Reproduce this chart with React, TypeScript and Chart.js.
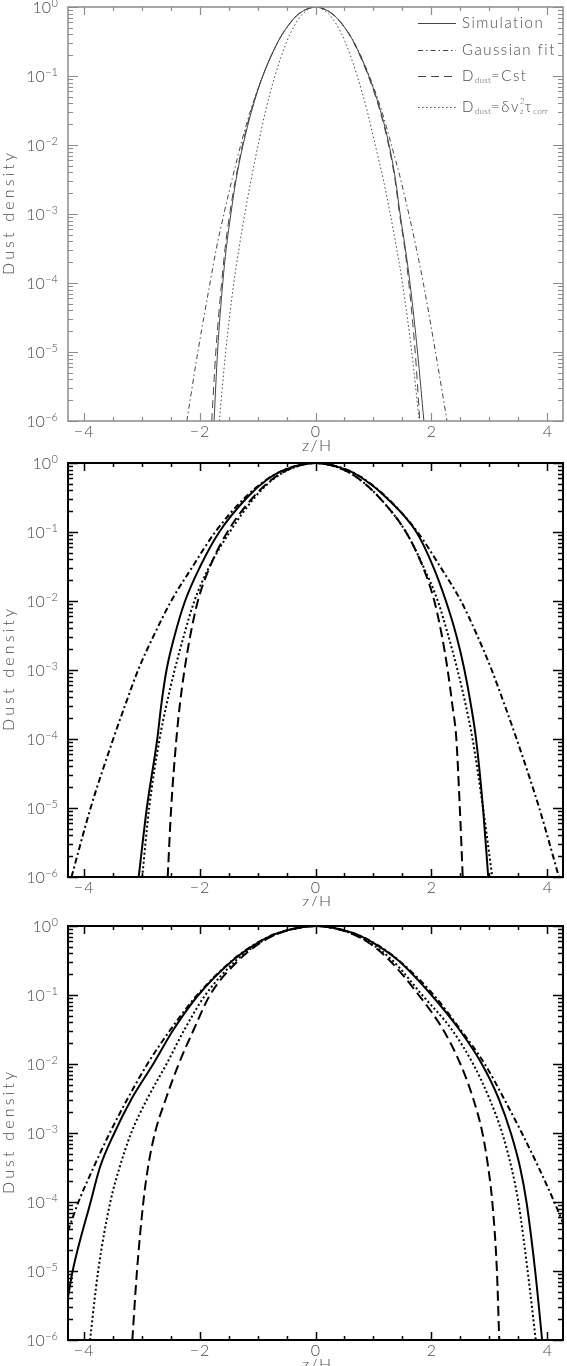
import React, { useEffect, useRef } from "react";
import { Chart, registerables } from "chart.js";
Chart.register(...registerables);

// ---------- data ----------
// density levels at which each curve's z-position was read
const LEVELS = [1e-6, 1e-5, 1e-4, 3.16e-4, 1e-3, 3.16e-3, 1e-2, 3.16e-2, 0.1, 0.316, 0.562, 0.794];
const PEAK_Z = 0;
const PEAK_D = 1;

// Panel 1
const p1SimL = [-1.75, -1.69, -1.6, -1.54, -1.46, -1.37, -1.25, -1.1, -0.91, -0.645, -0.455, -0.29];
const p1SimR = [1.87, 1.76, 1.63, 1.55, 1.46, 1.38, 1.27, 1.12, 0.92, 0.655, 0.46, 0.29];
const p1GauL = [-2.22, -2.03, -1.82, -1.71, -1.58, -1.44, -1.29, -1.12, -0.91, -0.645, -0.455, -0.29];
const p1GauR = [2.27, 2.07, 1.86, 1.74, 1.61, 1.47, 1.31, 1.14, 0.93, 0.66, 0.465, 0.295];
const p1CstL = [-1.79, -1.72, -1.62, -1.56, -1.48, -1.38, -1.26, -1.11, -0.91, -0.645, -0.455, -0.29];
const p1CstR = [1.8, 1.72, 1.61, 1.54, 1.45, 1.37, 1.26, 1.11, 0.91, 0.65, 0.46, 0.29];
const p1CorL = [-1.66, -1.55, -1.41, -1.32, -1.22, -1.11, -0.99, -0.86, -0.7, -0.495, -0.35, -0.22];
const p1CorR = [1.79, 1.66, 1.5, 1.4, 1.29, 1.17, 1.03, 0.89, 0.72, 0.51, 0.36, 0.225];

// Panel 2
const p2SimL = [-3.05, -2.91, -2.73, -2.66, -2.57, -2.43, -2.25, -1.99, -1.66, -1.18, -0.85, -0.54];
const p2SimR = [2.98, 2.89, 2.77, 2.68, 2.57, 2.43, 2.25, 2.03, 1.74, 1.22, 0.86, 0.54];
const p2GauL = [-4.21, -3.88, -3.49, -3.28, -3.06, -2.79, -2.49, -2.12, -1.73, -1.215, -0.86, -0.54];
const p2GauR = [4.2, 3.86, 3.47, 3.26, 3.04, 2.79, 2.51, 2.15, 1.76, 1.23, 0.87, 0.55];
const p2CstL = [-2.55, -2.49, -2.4, -2.34, -2.26, -2.16, -2.03, -1.82, -1.52, -1.08, -0.77, -0.48];
const p2CstR = [2.54, 2.49, 2.43, 2.36, 2.28, 2.18, 2.05, 1.85, 1.56, 1.1, 0.78, 0.49];
const p2CorL = [-2.99, -2.87, -2.69, -2.57, -2.43, -2.27, -2.09, -1.83, -1.48, -1.05, -0.75, -0.47];
const p2CorR = [3.05, 2.89, 2.71, 2.59, 2.45, 2.29, 2.11, 1.86, 1.56, 1.1, 0.78, 0.49];

// Panel 3 (null = curve leaves the frame before that level)
const p3SimL = [null, -4.19, -3.88, -3.72, -3.47, -3.17, -2.8, -2.45, -2.02, -1.43, -1.01, -0.64];
const p3SimLEdge = [-4.27, 4.2e-6];
const p3SimR = [3.91, 3.79, 3.64, 3.53, 3.37, 3.16, 2.87, 2.48, 2.0, 1.43, 1.01, 0.64];
const p3GauL = [null, null, -4.09, -3.83, -3.55, -3.24, -2.9, -2.5, -2.04, -1.44, -1.02, -0.645];
const p3GauLEdge = [-4.27, 3.8e-5];
const p3GauR = [null, null, 4.12, 3.85, 3.56, 3.25, 2.92, 2.5, 2.04, 1.44, 1.02, 0.645];
const p3GauREdge = [4.27, 5.0e-5];
const p3CstL = [-3.16, -3.08, -2.97, -2.89, -2.77, -2.58, -2.36, -2.1, -1.82, -1.33, -0.96, -0.61];
const p3CstR = [3.17, 3.13, 3.05, 2.98, 2.88, 2.72, 2.5, 2.2, 1.78, 1.28, 0.93, 0.59];
const p3CorL = [-3.89, -3.75, -3.54, -3.38, -3.18, -2.9, -2.57, -2.26, -1.9, -1.37, -0.98, -0.62];
const p3CorR = [3.8, 3.66, 3.5, 3.38, 3.22, 3.0, 2.72, 2.35, 1.84, 1.33, 0.95, 0.6];

// axes
const X_MIN = -4.27;
const X_MAX = 4.27;
const X_MAJOR = [-4, -2, 0, 2, 4];
const X_LABELS = ["\u22124", "\u22122", "0", "2", "4"];
const Y_MIN = 1e-6;
const Y_MAX = 1;
const Y_MAJOR = [1, 1e-1, 1e-2, 1e-3, 1e-4, 1e-5, 1e-6];
const Y_EXP = ["0", "\u22121", "\u22122", "\u22123", "\u22124", "\u22125", "\u22126"];
const X_TITLE = "z/H";
const Y_TITLE = "Dust density";
const LEGEND_LABELS = ["Simulation", "Gaussian fit", "Ddust=Cst", "Ddust=δvz2τcorr"];

// ---------- helpers ----------
type Pt = { x: number; y: number };
function buildCurve(
  left: (number | null)[],
  right: (number | null)[],
  leftEdge?: number[],
  rightEdge?: number[]
): Pt[] {
  const pts: Pt[] = [];
  if (leftEdge) pts.push({ x: leftEdge[0], y: leftEdge[1] });
  left.forEach((z, i) => {
    if (z !== null) pts.push({ x: z, y: LEVELS[i] });
  });
  pts.push({ x: PEAK_Z, y: PEAK_D });
  for (let i = right.length - 1; i >= 0; i--) {
    const z = right[i];
    if (z !== null) pts.push({ x: z, y: LEVELS[i] });
  }
  if (rightEdge) pts.push({ x: rightEdge[0], y: rightEdge[1] });
  return pts;
}

const FONT = "Lato, 'DejaVu Sans', sans-serif";
const W = "300";
const TEXT_COLOR = "#4a4a4a";

type PanelDef = {
  canvasTop: number;
  canvasHeight: number;
  areaTop: number;
  areaBottom: number;
  faint: boolean;
  legend: boolean;
  curves: { sim: Pt[]; gau: Pt[]; cst: Pt[]; cor: Pt[] };
};

const PANELS: PanelDef[] = [
  {
    canvasTop: 0,
    canvasHeight: 466,
    areaTop: 7,
    areaBottom: 421,
    faint: true,
    legend: true,
    curves: {
      sim: buildCurve(p1SimL, p1SimR),
      gau: buildCurve(p1GauL, p1GauR),
      cst: buildCurve(p1CstL, p1CstR),
      cor: buildCurve(p1CorL, p1CorR),
    },
  },
  {
    canvasTop: 440,
    canvasHeight: 466,
    areaTop: 463,
    areaBottom: 877,
    faint: false,
    legend: false,
    curves: {
      sim: buildCurve(p2SimL, p2SimR),
      gau: buildCurve(p2GauL, p2GauR),
      cst: buildCurve(p2CstL, p2CstR),
      cor: buildCurve(p2CorL, p2CorR),
    },
  },
  {
    canvasTop: 900,
    canvasHeight: 466,
    areaTop: 926,
    areaBottom: 1340,
    faint: false,
    legend: false,
    curves: {
      sim: buildCurve(p3SimL, p3SimR, p3SimLEdge),
      gau: buildCurve(p3GauL, p3GauR, p3GauLEdge, p3GauREdge),
      cst: buildCurve(p3CstL, p3CstR),
      cor: buildCurve(p3CorL, p3CorR),
    },
  },
];

const AREA_LEFT = 68;
const AREA_RIGHT = 563;
const WIDTH = 567;

function styles(faint: boolean) {
  return faint
    ? {
        color: "#444",
        width: 1,
        solid: [] as number[],
        dashdot: [5, 3, 1.5, 3],
        dashed: [8, 5],
        dotted: [1.5, 2.5],
        axis: "#8c8c8c",
        axisW: 1.5,
        tickW: 1.2,
      }
    : {
        color: "#000",
        width: 2,
        solid: [] as number[],
        dashdot: [6, 3, 2, 3],
        dashed: [10, 5],
        dotted: [2, 2.5],
        axis: "#000",
        axisW: 2,
        tickW: 1.5,
      };
}

const f = (size: number) => `${W} ${size}px ${FONT}`;

// letter spacing that makes `text` span `target` pixels in the current font
function fitSpacing(ctx: CanvasRenderingContext2D, text: string, target: number) {
  (ctx as any).letterSpacing = "0px";
  const w = ctx.measureText(text).width;
  const n = Math.max(1, text.length - 1);
  return Math.max(0, (target - w) / n);
}

function drawRich(
  ctx: CanvasRenderingContext2D,
  x: number,
  y: number,
  segs: { t: string; size: number; dy: number; adv?: boolean }[],
  spacing: number
) {
  let cx = x;
  for (const s of segs) {
    ctx.font = f(s.size);
    (ctx as any).letterSpacing = s.size >= 12 ? `${spacing}px` : "0.3px";
    ctx.fillText(s.t, cx, y + s.dy);
    if (s.adv !== false) cx += ctx.measureText(s.t).width;
  }
  (ctx as any).letterSpacing = "0px";
}

function makeFramePlugin(p: PanelDef) {
  const st = styles(p.faint);
  return {
    id: "frame",
    afterDraw(chart: any) {
      const ctx: CanvasRenderingContext2D = chart.ctx;
      const xs = chart.scales.x;
      const ys = chart.scales.y;
      const { left, right, top, bottom } = chart.chartArea;
      ctx.save();
      // ticks
      ctx.strokeStyle = st.axis;
      ctx.lineWidth = st.tickW;
      ctx.beginPath();
      for (let v = -4; v <= 4.001; v += 0.5) {
        const px = Math.round(xs.getPixelForValue(v)) + 0.5;
        const len = X_MAJOR.includes(Math.round(v * 10) / 10) ? 8 : 4;
        ctx.moveTo(px, bottom);
        ctx.lineTo(px, bottom - len);
        ctx.moveTo(px, top);
        ctx.lineTo(px, top + len);
      }
      for (let e = -6; e <= 0; e++) {
        for (let m = 1; m <= 9; m++) {
          const v = m * Math.pow(10, e);
          if (v > 1.0001) break;
          const py = Math.round(ys.getPixelForValue(v)) + 0.5;
          const len = m === 1 ? 10 : 5;
          ctx.moveTo(left, py);
          ctx.lineTo(left + len, py);
          ctx.moveTo(right, py);
          ctx.lineTo(right - len, py);
        }
      }
      ctx.stroke();
      // frame
      ctx.lineWidth = st.axisW;
      ctx.strokeRect(left, top, right - left, bottom - top);

      // labels
      ctx.fillStyle = TEXT_COLOR;
      ctx.textAlign = "center";
      ctx.textBaseline = "middle";
      X_MAJOR.forEach((v, i) => {
        ctx.font = f(16);
        (ctx as any).letterSpacing = "1px";
        ctx.fillText(X_LABELS[i], xs.getPixelForValue(v) + 0.5, bottom + 11);
      });
      (ctx as any).letterSpacing = "0px";
      Y_MAJOR.forEach((v, i) => {
        const py = ys.getPixelForValue(v);
        ctx.font = f(11);
        const ew = ctx.measureText(Y_EXP[i]).width;
        ctx.textAlign = "left";
        ctx.textBaseline = "alphabetic";
        ctx.fillText(Y_EXP[i], left - 10 - ew, py - 0.5);
        ctx.font = f(16);
        ctx.textAlign = "right";
        ctx.textBaseline = "middle";
        ctx.fillText("10", left - 10 - ew - 0.5, py + 1);
      });
      // axis titles
      ctx.font = f(16);
      ctx.textAlign = "center";
      ctx.textBaseline = "middle";
      let sp = fitSpacing(ctx, X_TITLE, 29);
      (ctx as any).letterSpacing = `${sp}px`;
      ctx.fillText(X_TITLE, (left + right) / 2 + 1 + sp / 2, bottom + 25);
      sp = fitSpacing(ctx, Y_TITLE, 122);
      (ctx as any).letterSpacing = `${sp}px`;
      ctx.save();
      ctx.translate(9, (top + bottom) / 2);
      ctx.rotate(-Math.PI / 2);
      ctx.fillText(Y_TITLE, sp / 2, 0);
      ctx.restore();
      (ctx as any).letterSpacing = "0px";

      // legend
      if (p.legend) {
        const rows = [23, 50, 76, 107];
        const dashes = [st.solid, st.dashdot, st.dashed, st.dotted];
        ctx.strokeStyle = st.color;
        ctx.lineWidth = st.width;
        rows.forEach((ry, i) => {
          ctx.setLineDash(dashes[i]);
          ctx.beginPath();
          ctx.moveTo(418, ry + 0.5);
          ctx.lineTo(456, ry + 0.5);
          ctx.stroke();
        });
        ctx.setLineDash([]);
        ctx.fillStyle = TEXT_COLOR;
        ctx.textAlign = "left";
        ctx.textBaseline = "middle";
        ctx.font = f(15);
        const ls = fitSpacing(ctx, LEGEND_LABELS[0], 81);
        (ctx as any).letterSpacing = `${ls}px`;
        ctx.fillText(LEGEND_LABELS[0], 462, rows[0]);
        ctx.fillText(LEGEND_LABELS[1], 462, rows[1]);
        drawRich(
          ctx,
          462,
          rows[2],
          [
            { t: "D", size: 15, dy: 0 },
            { t: "dust", size: 8, dy: 4 },
            { t: "=Cst", size: 15, dy: 0 },
          ],
          ls
        );
        drawRich(
          ctx,
          462,
          rows[3],
          [
            { t: "D", size: 15, dy: 0 },
            { t: "dust", size: 8, dy: 4 },
            { t: "=δv", size: 15, dy: 0 },
            { t: "z", size: 8, dy: 4, adv: false },
            { t: "2", size: 8, dy: -6 },
            { t: "τ", size: 15, dy: 0 },
            { t: "corr", size: 8, dy: 4 },
          ],
          ls
        );
        (ctx as any).letterSpacing = "0px";
      }
      ctx.restore();
    },
  };
}

function Panel({ p }: { p: PanelDef }) {
  const ref = useRef<HTMLCanvasElement | null>(null);
  useEffect(() => {
    if (!ref.current) return;
    const st = styles(p.faint);
    const ds = (label: string, data: Pt[], dash: number[]) => ({
      label,
      data,
      borderColor: st.color,
      borderWidth: st.width,
      borderDash: dash,
      pointRadius: 0,
      fill: false,
      cubicInterpolationMode: "monotone" as const,
    });
    const chart = new Chart(ref.current, {
      type: "line",
      data: {
        datasets: [
          ds(LEGEND_LABELS[0], p.curves.sim, st.solid),
          ds(LEGEND_LABELS[1], p.curves.gau, st.dashdot),
          ds(LEGEND_LABELS[2], p.curves.cst, st.dashed),
          ds(LEGEND_LABELS[3], p.curves.cor, st.dotted),
        ],
      },
      options: {
        animation: false,
        responsive: false,
        devicePixelRatio: 1,
        layout: {
          padding: {
            left: AREA_LEFT,
            right: WIDTH - AREA_RIGHT,
            top: p.areaTop - p.canvasTop,
            bottom: p.canvasTop + p.canvasHeight - p.areaBottom,
          },
        },
        plugins: { legend: { display: false }, tooltip: { enabled: false } },
        scales: {
          x: { type: "linear", display: false, min: X_MIN, max: X_MAX },
          y: { type: "logarithmic", display: false, min: Y_MIN, max: Y_MAX },
        },
      },
      plugins: [makeFramePlugin(p)],
    });
    return () => chart.destroy();
  }, [p]);
  return (
    <canvas
      ref={ref}
      width={WIDTH}
      height={p.canvasHeight}
      style={{ position: "absolute", left: 0, top: p.canvasTop, width: WIDTH, height: p.canvasHeight }}
    />
  );
}

export default function App() {
  return (
    <div style={{ position: "absolute", left: 0, top: 0, width: WIDTH, height: 1366, background: "#fff" }}>
      {PANELS.map((p, i) => (
        <Panel key={i} p={p} />
      ))}
    </div>
  );
}
